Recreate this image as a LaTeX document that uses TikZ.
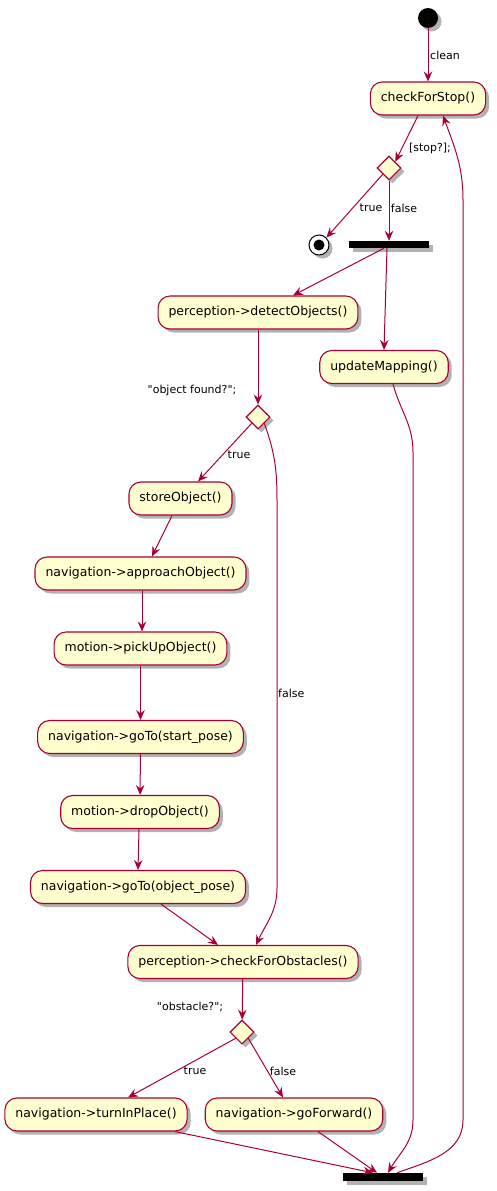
\documentclass[tikz,border=0pt]{standalone}
\usepackage{fontspec}
\setmainfont{DejaVu Sans}[Ligatures=TeXOff]
\usetikzlibrary{arrows.meta,positioning,shapes.geometric,shadows}
\definecolor{umlred}{HTML}{A80036}
\definecolor{umlfill}{HTML}{FEFECE}
\begin{document}
\begin{tikzpicture}[x=1pt,y=-1pt,>={Stealth[length=10pt,width=8.5pt,inset=3.5pt]},
  umlshadow/.style={drop shadow={shadow xshift=3.5pt,shadow yshift=-3.5pt,opacity=0.3,fill=black}},
  act/.style={draw=umlred,fill=umlfill,line width=1.1pt,rounded corners=12pt,minimum height=33pt,inner xsep=10.5pt,font=\fontsize{12.5}{15}\selectfont,umlshadow},
  decision/.style={draw=umlred,fill=umlfill,line width=1.1pt,diamond,minimum size=24pt,inner sep=0pt,umlshadow},
  bar/.style={fill=black,minimum width=80pt,minimum height=7pt,inner sep=0pt,umlshadow},
  lbl/.style={font=\fontsize{11}{13}\selectfont,inner sep=1pt},
  arr/.style={->,draw=umlred,line width=1pt}]
\useasboundingbox (0,0) rectangle (496,1191);
\node[circle,fill=black,minimum size=20pt,inner sep=0pt,umlshadow] (start) at (428,18) {};
\node[act] (checkstop) at (428,98.5) {checkForStop()};
\node[decision] (dstop) at (389,168) {};
\node[circle,draw=black,fill=white,line width=1pt,minimum size=20pt,inner sep=0pt,umlshadow] (stop) at (319,245) {};
\fill (stop.center) circle[radius=5.5pt];
\node[bar] (fork) at (389,244.5) {};
\node[act] (detect) at (258,312.5) {perception->detectObjects()};
\node[act] (update) at (384,367) {updateMapping()};
\node[decision] (dfound) at (258,417) {};
\node[act] (store) at (180.5,498.5) {storeObject()};
\node[act] (approach) at (140.5,573.5) {navigation->approachObject()};
\node[act] (pickup) at (140.5,648.5) {motion->pickUpObject()};
\node[act] (gostart) at (140.5,737) {navigation->goTo(start\_pose)};
\node[act] (drop) at (140,812) {motion->dropObject()};
\node[act] (goobj) at (138,887) {navigation->goTo(object\_pose)};
\node[act] (obstacles) at (243,962) {perception->checkForObstacles()};
\node[decision] (dobst) at (242,1032) {};
\node[act] (turn) at (96,1114.5) {navigation->turnInPlace()};
\node[act] (forward) at (294,1114.5) {navigation->goForward()};
\node[bar,minimum height=8pt] (join) at (383,1177) {};
\node[lbl,anchor=west] (lclean) at (429,55) {clean};
\node[lbl] (lstop) at (430,148) {[stop?];};
\node[lbl] (ltrue1) at (371,208) {true};
\node[lbl] (lfalse1) at (404,208) {false};
\node[lbl] (lfound) at (192,390) {"object found?";};
\node[lbl] (ltrue2) at (239,455) {true};
\node[lbl,anchor=west] (lfalse2) at (277,693) {false};
\node[lbl] (lobst) at (190,1007) {"obstacle?";};
\node[lbl] (ltrue3) at (195,1071) {true};
\node[lbl] (lfalse3) at (283,1071) {false};
\draw[arr] (start)--(checkstop);
\draw[arr] ([xshift=-10pt]checkstop.south)--(dstop.north east);
\draw[arr] (dstop.south west)--(stop.north east);
\draw[arr] (dstop)--(fork);
\draw[arr] ([xshift=-5pt]fork.south)--([xshift=35pt]detect.north);
\draw[arr] ([xshift=-2pt]fork.south)--(update.north);
\draw[arr] (detect)--(dfound);
\draw[arr] (dfound.south west)--([xshift=17.5pt]store.north);
\draw[arr] (dfound.south east) to[out=-70,in=90] (277,500)--(277,888) to[out=-90,in=65] ([xshift=13pt]obstacles.north);
\draw[arr] ([xshift=-8.5pt]store.south)--([xshift=11.5pt]approach.north);
\draw[arr] ([xshift=1.5pt]approach.south)--([xshift=1.5pt]pickup.north);
\draw[arr] (pickup)--(gostart);
\draw[arr] (gostart)--(drop);
\draw[arr] ([xshift=-1pt]drop.south)--(goobj.north);
\draw[arr] ([xshift=23pt]goobj.south)--([xshift=-25pt]obstacles.north);
\draw[arr] (obstacles)--(dobst);
\draw[arr] (dobst.south west)--([xshift=32pt]turn.north);
\draw[arr] (dobst.south east)--([xshift=-11pt]forward.north);
\draw[arr] ([xshift=79pt]turn.south)--([xshift=-10pt]join.north);
\draw[arr] ([xshift=24pt]forward.south)--([xshift=-6pt]join.north);
\draw[arr] ([xshift=9pt]update.south) to[out=-75,in=90] (413,452)--(413,1120) to[out=-90,in=60] ([xshift=5pt]join.north);
\draw[arr] ([xshift=14pt]join.north) to[out=20,in=-90] (463,1120)--(463,200) to[out=90,in=-70] ([xshift=15pt]checkstop.south);
\end{tikzpicture}
\end{document}
